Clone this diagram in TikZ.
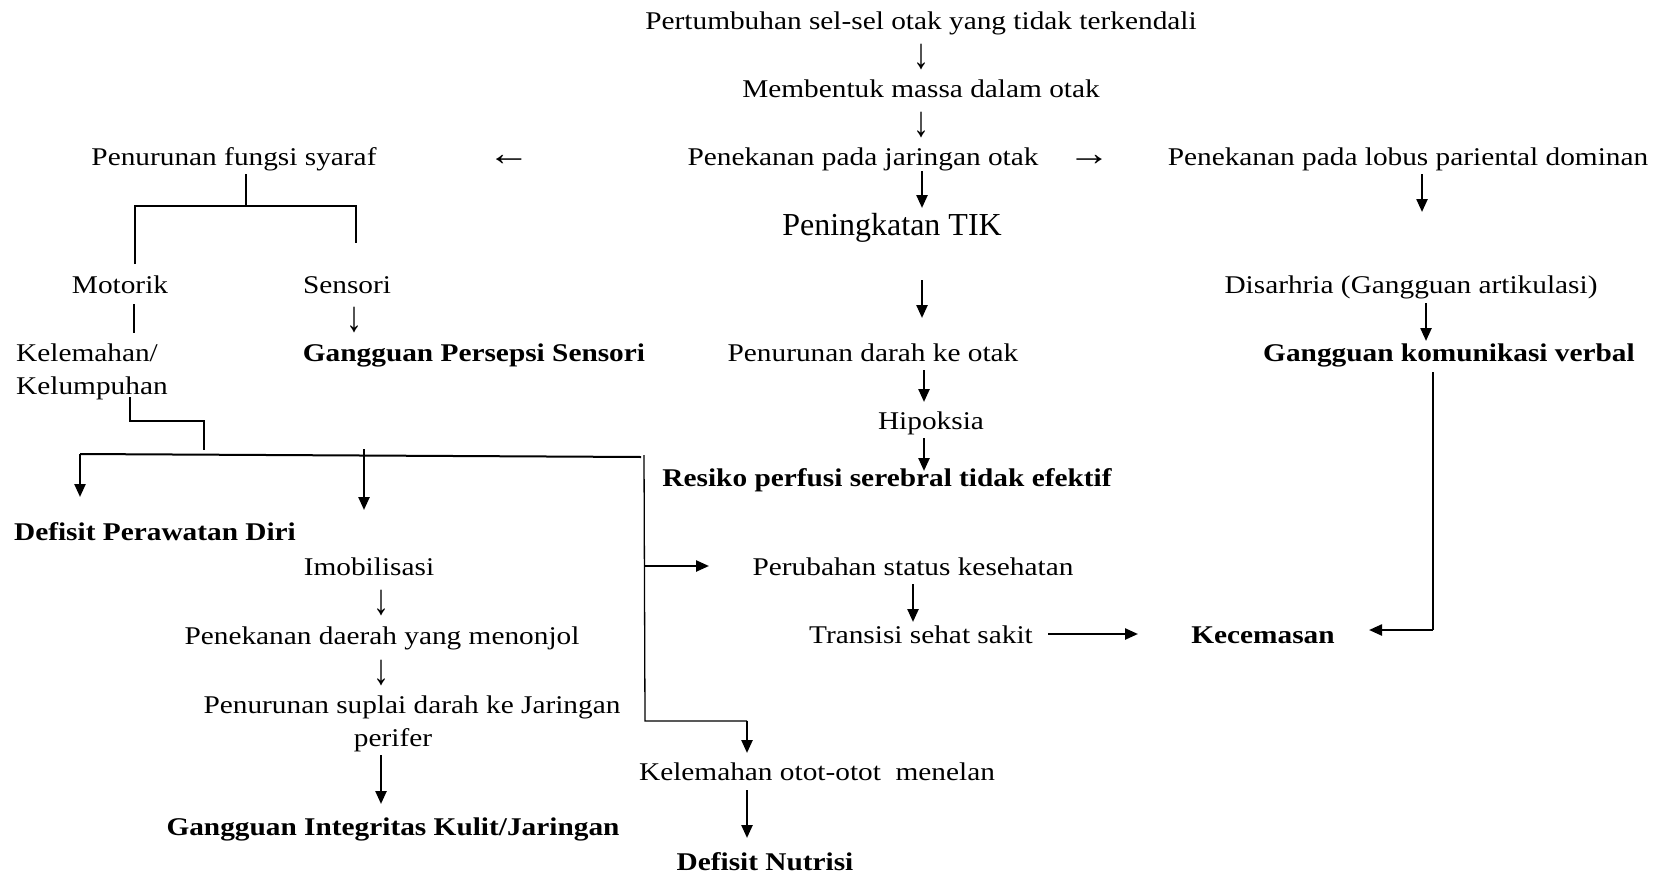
\documentclass[tikz,border=0pt]{standalone}
\usepackage{fontspec}
\usepackage{graphicx}
\setmainfont{Liberation Serif}[FakeStretch=1.15]
\newfontfamily\plainserif{Liberation Serif}
\usetikzlibrary{arrows.meta}
\begin{document}
\begin{tikzpicture}[x=1pt,y=-1pt,
  txt/.style={inner sep=0pt, anchor=base, yshift=-9pt, font=\fontsize{25.5}{33}\selectfont},
  bld/.style={txt, font=\fontsize{25.5}{33}\selectfont\bfseries},
  vglyph/.style={inner sep=0pt, font=\plainserif\fontsize{32}{32}\selectfont},
  hglyph/.style={inner sep=0pt, font=\fontsize{25.5}{33}\selectfont},
  thickarr/.style={line width=2.4pt, -{Triangle[length=13pt,width=11pt]}},
  link/.style={line width=2pt},
  thinlink/.style={line width=1.3pt}]
\useasboundingbox (0,0) rectangle (1656,875);
\fill[white] (0,0) rectangle (1656,875);

% centre column
\node[txt] (pert) at (921,21) {Pertumbuhan sel-sel otak yang tidak terkendali};
\node[vglyph] (dn1) at (921,57) {\scalebox{1}[1.35]{↓}};
\node[txt] (mass) at (921,88) {Membentuk massa dalam otak};
\node[vglyph] (dn2) at (921,125) {\scalebox{1}[1.35]{↓}};
\node[txt] (pjo) at (863,156) {Penekanan pada jaringan otak};
\node[hglyph] (rt1) at (1089,160) {\scalebox{1.45}[1.4]{→}};
\node[hglyph] (lt1) at (509,160) {\scalebox{1.45}[1.4]{←}};
\node[txt] (pfs) at (234,156) {Penurunan fungsi syaraf};
\node[txt] (lob) at (1408,156) {Penekanan pada lobus pariental dominan};
\node[inner sep=0pt, anchor=base, yshift=-10pt, font=\plainserif\fontsize{32}{36}\selectfont] (tik) at (892,225) {Peningkatan TIK};
\node[txt] (pdo) at (873,352) {Penurunan darah ke otak};
\node[txt] (hip) at (931,420) {Hipoksia};
\node[bld] (res) at (887,477) {Resiko perfusi serebral tidak efektif};

% right column
\node[txt] (dis) at (1411,284) {Disarhria (Gangguan artikulasi)};
\node[bld] (gkv) at (1449,352) {Gangguan komunikasi verbal};
\node[bld] (kec) at (1263,634) {Kecemasan};
\node[txt] (tss) at (921,634) {Transisi sehat sakit};
\node[txt] (psk) at (913,566) {Perubahan status kesehatan};

% left column
\node[txt] (mot) at (120,284) {Motorik};
\node[txt] (sen) at (347,284) {Sensori};
\node[vglyph] (dn3) at (354,320) {\scalebox{1}[1.35]{↓}};
\node[inner sep=0pt, font=\fontsize{25.5}{33}\selectfont, align=left, anchor=base west] (kel) at (16,394) {Kelemahan/\\Kelumpuhan};
\node[bld] (gps) at (474,352) {Gangguan Persepsi Sensori};
\node[bld] (dpd) at (155,531) {Defisit Perawatan Diri};
\node[txt] (imo) at (369,566) {Imobilisasi};
\node[vglyph] (dn4) at (381,603) {\scalebox{1}[1.35]{↓}};
\node[txt] (pdm) at (382,635) {Penekanan daerah yang menonjol};
\node[vglyph] (dn5) at (381,673) {\scalebox{1}[1.35]{↓}};
\node[txt] (sup1) at (412,704) {Penurunan suplai darah ke Jaringan};
\node[txt] (sup2) at (393,737) {perifer};
\node[bld] (gik) at (393,826) {Gangguan Integritas Kulit/Jaringan};
\node[txt] (kom) at (817,771) {Kelemahan otot-otot\ \ menelan};
\node[bld] (dnu) at (765,861) {Defisit Nutrisi};

% coordinates for connector ends
\coordinate (c1a) at (922,171); \coordinate (c1b) at (922,208);
\coordinate (c2a) at (922,280); \coordinate (c2b) at (922,318);
\coordinate (c3a) at (924,370); \coordinate (c3b) at (924,402);
\coordinate (c4a) at (924,438); \coordinate (c4b) at (924,471);
\coordinate (c5a) at (1422,174); \coordinate (c5b) at (1422,212);
\coordinate (c6a) at (1426,303); \coordinate (c6b) at (1426,341);
\coordinate (c7a) at (913,584); \coordinate (c7b) at (913,622);
\coordinate (c8a) at (1048,634); \coordinate (c8b) at (1138,634);
\coordinate (v1a) at (1433,372); \coordinate (v1b) at (1433,630); \coordinate (c9b) at (1369,630);
% left tree
\coordinate (b0) at (246,174); \coordinate (b1) at (246,206);
\coordinate (bl) at (135,206); \coordinate (blb) at (135,264);
\coordinate (br) at (356,206); \coordinate (brb) at (356,243);
\coordinate (m1) at (134,304); \coordinate (m2) at (134,333);
\coordinate (k1) at (130,397); \coordinate (k2) at (130,421);
\coordinate (k3) at (204,421); \coordinate (k4) at (204,450);
\coordinate (h1) at (80,454); \coordinate (h2) at (641,457);
\coordinate (d1b) at (80,497);
\coordinate (d2a) at (364,449); \coordinate (d2b) at (364,510);
\coordinate (v2a) at (644,455); \coordinate (v2b) at (645,721);
\coordinate (v2m) at (644,566); \coordinate (rsb) at (709,566);
\coordinate (w1) at (747,721); \coordinate (w1b) at (747,753);
\coordinate (g1a) at (381,755); \coordinate (g1b) at (381,804);
\coordinate (n1a) at (747,790); \coordinate (n1b) at (747,838);

% connectors
\draw[thickarr] (c1a) -- (c1b);
\draw[thickarr] (c2a) -- (c2b);
\draw[thickarr] (c3a) -- (c3b);
\draw[thickarr] (c4a) -- (c4b);
\draw[thickarr] (c5a) -- (c5b);
\draw[thickarr] (c6a) -- (c6b);
\draw[thickarr] (c7a) -- (c7b);
\draw[thickarr] (c8a) -- (c8b);
\draw[thinlink] (v1a) -- (v1b);
\draw[thickarr] (v1b) -- (c9b);

\draw[link] (b0) -- (b1);
\draw[link] (blb) -- (bl) -- (br) -- (brb);
\draw[link] (m1) -- (m2);
\draw[link] (k1) -- (k2) -- (k3) -- (k4);
\draw[link] (h1) -- (h2);
\draw[thickarr] (h1) -- (d1b);
\draw[thickarr] (d2a) -- (d2b);
\draw[thinlink] (v2a) -- (v2b) -- (w1);
\draw[thickarr] (v2m) -- (rsb);
\draw[thickarr] (w1) -- (w1b);
\draw[thickarr] (g1a) -- (g1b);
\draw[thickarr] (n1a) -- (n1b);
\end{tikzpicture}
\end{document}
